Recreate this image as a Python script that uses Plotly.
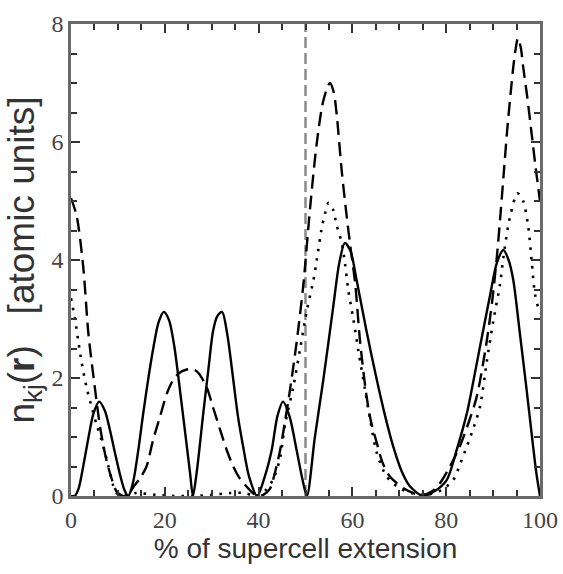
import plotly.graph_objects as go

# ---- data ----
x_solid = [0, 0.8, 1.6, 2.6, 3.7, 4.8, 6.0, 7.2, 8.3, 9.4, 10.4, 11.4, 12.2, 13.2, 14.3, 15.4,
           16.5, 17.6, 18.7, 19.8, 20.9, 22.0, 23.3, 24.7, 25.4, 26.0, 26.8, 28.2, 29.3, 30.3,
           31.2, 32.2, 33.3, 34.6, 35.6, 36.7, 38.0, 39.7, 41.2, 42.8, 44.0, 45.2, 46.6, 48.1,
           49.3, 50.3, 52.0, 53.8, 55.9, 57.2, 58.4, 59.6, 60.9, 63.0, 65.2, 67.0, 68.7, 70.5,
           72.3, 75.1, 77.5, 80.1, 82.3, 84.4, 85.8, 87.2, 89.3, 90.8, 92.2, 93.3, 94.3, 95.7,
           97.0, 98.2, 99.2, 100]
y_solid = [0, 0, 0.12, 0.5, 0.98, 1.4, 1.6, 1.45, 1.12, 0.72, 0.38, 0.1, 0, 0.22, 0.75, 1.4,
           2.0, 2.53, 2.95, 3.12, 2.98, 2.55, 1.75, 0.84, 0.38, 0, 0.4, 1.4, 2.15, 2.8,
           3.05, 3.12, 2.75, 1.97, 1.35, 0.84, 0.32, 0, 0.3, 0.78, 1.35, 1.6, 1.35, 0.78,
           0.3, 0, 1.0, 1.97, 3.2, 3.95, 4.29, 4.15, 3.66, 2.8, 1.97, 1.35, 0.84, 0.42,
           0.16, 0, 0.08, 0.27, 0.8, 1.4, 1.95, 2.53, 3.38, 3.95, 4.17, 4.0, 3.66, 2.76,
           1.9, 1.07, 0.4, 0]

x_dash = [0, 1.2, 2.6, 3.7, 4.8, 6.2, 7.3, 8.3, 9.7, 11.0, 12.2, 13.2, 14.7, 16.1, 17.5, 19.0,
          20.5, 21.8, 23.0, 24.5, 26.0, 27.2, 28.9, 30.3, 31.8, 33.2, 34.6, 35.8, 37.1, 38.5,
          39.7, 41.0, 42.4, 43.5, 44.6, 45.6, 46.7, 48.1, 49.5, 51.0, 52.4, 53.8, 55.2, 56.0,
          56.7, 57.7, 58.8, 59.7, 60.6, 61.6, 63.0, 64.0, 65.2, 66.5, 68.0, 70.9, 73.0, 75.0,
          77.0, 78.7, 80.8, 82.9, 84.8, 86.5, 88.5, 89.8, 90.8, 91.6, 92.3, 93.0, 93.6, 94.5,
          95.3, 95.9, 96.4, 97.3, 98.2, 99.1, 100]
y_dash = [5.05, 4.75, 3.89, 2.76, 2.02, 1.17, 0.7, 0.39, 0.08, 0.0, 0.02, 0.14, 0.3, 0.5, 0.95, 1.35,
          1.75, 1.97, 2.08, 2.14, 2.15, 2.08, 1.85, 1.5, 1.12, 0.78, 0.5, 0.32, 0.19, 0.07,
          0, 0.02, 0.12, 0.4, 0.78, 1.25, 1.8, 2.6, 3.55, 4.9, 5.98, 6.7, 7.0, 6.85,
          6.43, 5.53, 4.73, 4.15, 3.6, 2.65, 1.7, 1.25, 0.9, 0.55, 0.33, 0.13, 0.05, 0.02,
          0.08, 0.22, 0.5, 0.84, 1.25, 1.68, 2.55, 3.3, 4.05, 4.8, 5.5, 6.2, 6.71, 7.4,
          7.76, 7.6, 7.28, 6.75, 6.15, 5.55, 5.0]

x_dot = [0, 0.85, 1.6, 2.3, 3.3, 4.6, 5.5, 6.5, 8.0, 9.0, 10.0, 11.5, 14, 18, 22, 26, 30, 34, 37,
         39.5, 41.5, 43.2, 44.6, 45.6, 47.4, 48.8, 50.3, 51.7, 52.4, 53.5, 54.2, 54.9, 55.9,
         56.6, 57.7, 58.4, 59.1, 60.2, 61.3, 62.7, 63.8, 65.2, 67.3, 70.1, 73, 76, 79, 81.5,
         83.0, 84.4, 85.8, 87.2, 88.6, 90.0, 91.5, 92.2, 93.6, 95.2, 96.4, 97.5, 98.2, 98.9,
         99.6, 100]
y_dot = [3.35, 3.0, 2.6, 2.25, 1.85, 1.45, 1.2, 0.95, 0.5, 0.18, 0.03, 0.02, 0.05, 0.02, 0.0, 0.0, 0.02, 0.05, 0.05,
         0.0, 0.1, 0.3, 0.65, 1.2, 1.85, 2.47, 3.15, 3.66, 4.0, 4.56, 4.8, 4.97, 4.85,
         4.6, 4.3, 3.95, 3.5, 3.0, 2.45, 1.8, 1.29, 0.73, 0.33, 0.13, 0.04, 0.02, 0.1, 0.27,
         0.55, 0.84, 1.15, 1.51, 2.25, 2.95, 3.6, 4.05, 4.73, 5.13, 5.0, 4.56, 4.0, 3.44,
         3.2, 3.1]

cell_boundary = 50
x_ticks = [0, 20, 40, 60, 80, 100]
y_ticks = [0, 2, 4, 6, 8]

fig = go.Figure()
fig.add_vline(x=cell_boundary, line=dict(color="#8a8a8a", width=2.5, dash="11px,5px"), layer="below")

fig.add_trace(go.Scatter(x=x_solid, y=y_solid, mode="lines", line=dict(color="black", width=2.4, shape="spline", smoothing=0.8), showlegend=False))
fig.add_trace(go.Scatter(x=x_dash, y=y_dash, mode="lines", line=dict(color="black", width=2.4, dash="14px,7px", shape="spline", smoothing=0.8), showlegend=False))
fig.add_trace(go.Scatter(x=x_dot, y=y_dot, mode="lines", line=dict(color="black", width=2.6, dash="2.5px,7px", shape="spline", smoothing=0.8), showlegend=False))

tickfont = dict(family="Liberation Serif, Times New Roman, serif", size=24, color="#444")
axis_common = dict(showgrid=False, zeroline=False, showline=True, linecolor="#6a6a6a", linewidth=2.5,
                   mirror="ticks", ticks="inside", ticklen=9, tickwidth=1.5, tickcolor="#333",
                   tickfont=tickfont, automargin=False)

fig.update_xaxes(range=[0, 100], tickvals=x_ticks, **axis_common,
                 minor=dict(dtick=5, ticks="inside", ticklen=6, tickwidth=1.5, tickcolor="#333"),
                 title=dict(text="% of supercell extension",
                            font=dict(family="Liberation Sans, Arial, sans-serif", size=28, color="#333"),
                            standoff=4))
fig.update_yaxes(range=[0, 8], tickvals=y_ticks, **axis_common,
                 minor=dict(dtick=0.5, ticks="inside", ticklen=6, tickwidth=1.5, tickcolor="#333"),
                 title=dict(text="n<sub>kj</sub>(<b>r</b>)\u00a0\u00a0\u00a0[atomic units]",
                            font=dict(family="Liberation Sans, Arial, sans-serif", size=37, color="#333"),
                            standoff=6))

fig.update_layout(width=563, height=574, margin=dict(l=71, r=23, t=24, b=78),
                  paper_bgcolor="white", plot_bgcolor="white")

fig.write_html("out.html")
